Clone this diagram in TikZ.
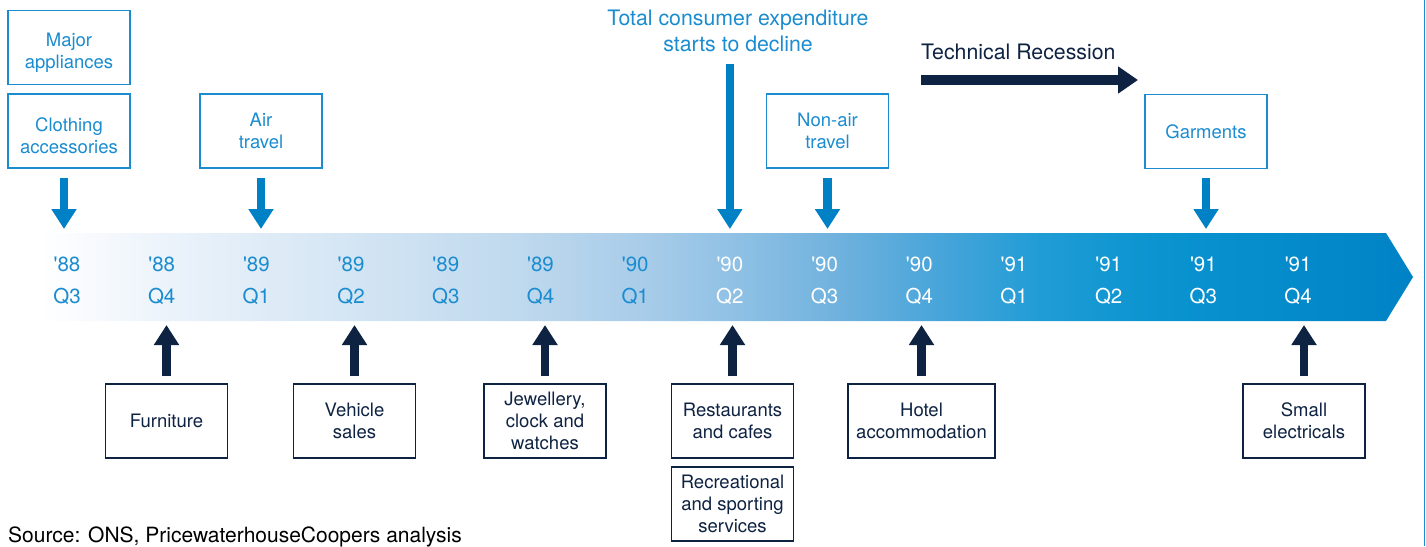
\documentclass[tikz,border=0pt]{standalone}
\usepackage{fontspec}
\newfontfamily\heros{TeX Gyre Heros}
\usetikzlibrary{arrows.meta}
\definecolor{pwcblue}{HTML}{1A8CCF}
\definecolor{arrowblue}{HTML}{0081C6}
\definecolor{navy}{HTML}{0E2242}
\definecolor{bandA}{HTML}{EAF2FA}
\definecolor{bandB}{HTML}{D5E6F4}
\definecolor{bandC}{HTML}{C1DAEE}
\definecolor{bandD}{HTML}{A8CCE9}
\definecolor{bandE}{HTML}{8EC0E4}
\definecolor{bandF}{HTML}{70B2DE}
\definecolor{bandG}{HTML}{45A4D9}
\definecolor{bandH}{HTML}{1F9CD5}
\definecolor{bandI}{HTML}{0993CF}
\definecolor{bandJ}{HTML}{0083C6}
\pgfdeclarehorizontalshading{bandshade}{100bp}{color(0bp)=(white); color(25bp)=(white);
  color(30bp)=(bandA); color(36bp)=(bandB); color(42bp)=(bandC); color(47bp)=(bandD);
  color(50.5bp)=(bandE); color(54bp)=(bandF); color(58bp)=(bandG); color(61.5bp)=(bandH);
  color(66bp)=(bandI); color(75bp)=(bandJ); color(100bp)=(bandJ)}
\begin{document}
\begin{tikzpicture}[x=1pt,y=-1pt,
  topbox/.style={draw=pwcblue,line width=1.3pt,text=pwcblue,minimum width=122pt,minimum height=74pt,
    align=center,inner sep=2pt,font=\heros\fontsize{18.5}{22}\selectfont},
  botbox/.style={topbox,draw=navy,text=navy},
  lowbox/.style={topbox,label={[align=center,text=pwcblue,yshift=-5pt,
    font=\heros\fontsize{18.5}{22}\selectfont]center:#1}},
  quarter/.style={align=center,inner sep=0pt,font=\heros\fontsize{20.5}{32}\selectfont},
  bigtext/.style={align=center,inner sep=0pt,font=\heros\fontsize{21.3}{26}\selectfont},
  downarr/.style={arrowblue,line width=8.5pt,-{Triangle[width=24pt,length=20pt]}},
  uparr/.style={downarr,navy}]
\useasboundingbox (0,0) rectangle (1426,546);
\draw[pwcblue,line width=1.5pt] (1424.5,0) -- (1424.5,546);
\shade[shading=bandshade] (40,233) -- (1386,233) -- (1413,277) -- (1386,321) -- (40,321) -- cycle;
\coordinate (bandtop) at (0,229);
\coordinate (bandbot) at (0,325);
\foreach \yr/\qq [count=\i from 0] in {88/3,88/4,89/1,89/2,89/3,89/4,90/1,90/2,90/3,90/4,91/1,91/2,91/3,91/4}{
  \ifnum\i<7 \def\qcol{pwcblue}\else\def\qcol{white}\fi
  \node[quarter,text=\qcol] (q\i) at ({67+94.7*\i},281) {'\yr\\Q\qq};
}
\node[lowbox={Major\\appliances}] (maj) at (69,47.5) {};
\node[lowbox={Clothing\\accessories}] (clo) at (69,131) {};
\node[topbox] (air) at (261,131) {Air\\travel};
\node[topbox] (non) at (827.5,131) {Non-air\\travel};
\node[topbox] (gar) at (1206,131.5) {Garments};
\node[bigtext,text=pwcblue] (tce) at (738,31) {Total consumer expenditure\\starts to decline};
\node[bigtext,text=navy,anchor=west] (tr) at (921,52) {Technical Recession};
\coordinate (recend) at (1138,80);
\draw[navy,line width=9.5pt,-{Triangle[width=26pt,length=20pt]}] (tr.west |- recend) -- (recend);
\draw[downarr] ([xshift=-5pt,yshift=-9pt]clo.south) -- ([xshift=-5pt]clo.south |- bandtop);
\draw[downarr] ([yshift=-9pt]air.south) -- (air.south |- bandtop);
\draw[downarr] ([yshift=-12pt]tce.south -| q7) -- (q7 |- bandtop);
\draw[downarr] ([yshift=-9pt]non.south) -- (non.south |- bandtop);
\draw[downarr] ([yshift=-9pt]gar.south) -- (gar.south |- bandtop);
\node[botbox] (fur) at (166.5,421) {Furniture};
\node[botbox] (veh) at (354.5,421) {Vehicle\\sales};
\node[botbox] (jew) at (545,421) {Jewellery,\\clock and\\watches};
\node[botbox] (res) at (732.5,421) {Restaurants\\and cafes};
\node[botbox] (rec) at (732.5,504) {Recreational\\and sporting\\services};
\node[botbox,minimum width=147pt] (hot) at (921.5,421) {Hotel\\accommodation};
\node[botbox] (sma) at (1304,421) {Small\\electricals};
\foreach \b in {fur,veh,jew,res,hot,sma}
  \draw[uparr] ([yshift=7pt]\b.north) -- (\b.north |- bandbot);
\node[anchor=west,inner sep=0pt,font=\heros\fontsize{21}{25}\selectfont] (src) at (8,537)
  {Source: ONS, PricewaterhouseCoopers analysis};
\end{tikzpicture}
\end{document}
